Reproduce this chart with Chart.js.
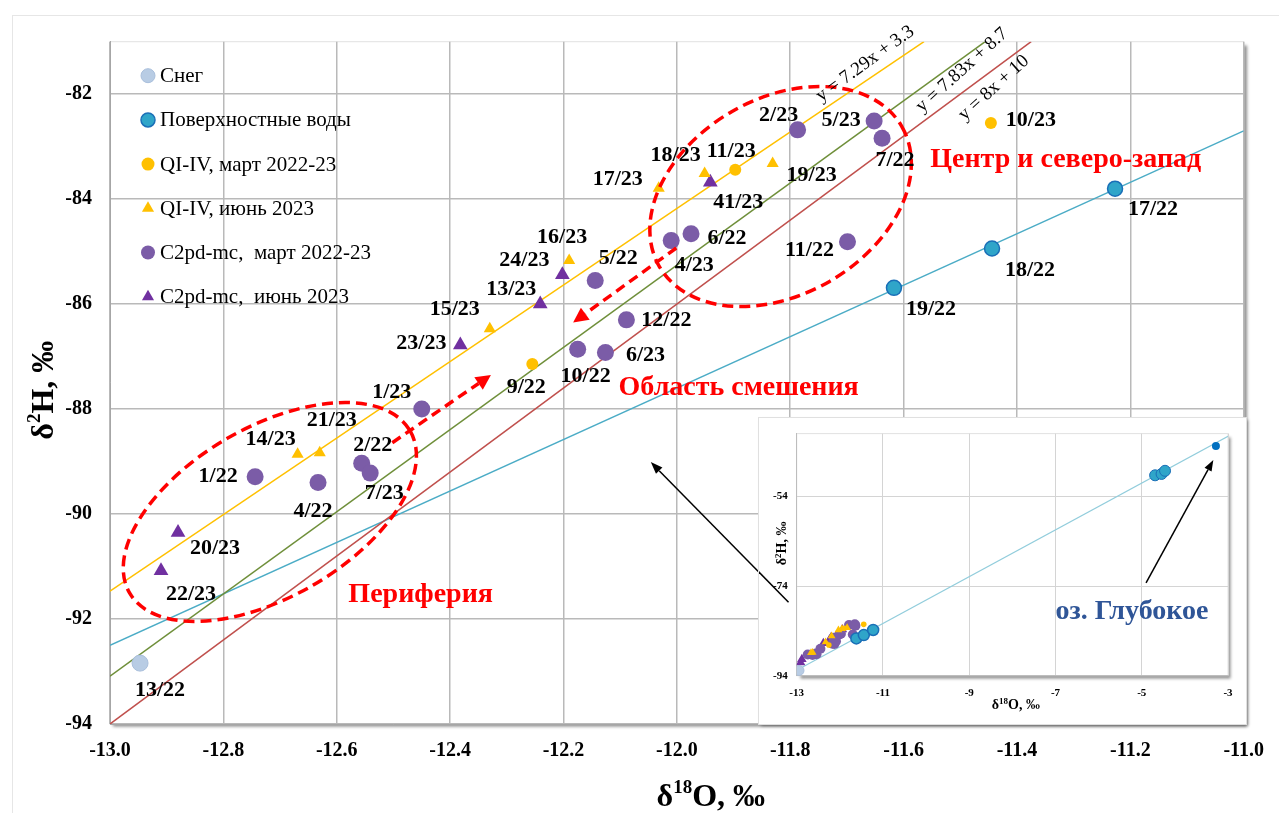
<!DOCTYPE html>
<html>
<head>
<meta charset="utf-8">
<script src="https://cdn.jsdelivr.net/npm/chart.js@4.4.1/dist/chart.umd.min.js"></script>
<style>
	html, body { margin: 0; padding: 0; background: #fff; }
	#wrap { position: relative; width: 1279px; height: 813px; overflow: hidden; }
	#frame { position: absolute; left: 12px; top: 15px; width: 1300px; height: 830px; border-left: 1px solid #e6e6e6; border-top: 1px solid #e6e6e6; }
	#main { position: absolute; left: 0; top: 0; }
	#insetBox { position: absolute; background: #fff; outline: 1px solid #e0e0e0; box-shadow: 2px 2px 3px rgba(0,0,0,0.4); }
	#insetBox canvas { display: block; }
</style>
</head>
<body>
<div id="wrap">
	<div id="frame"></div>
	<canvas id="main" width="1279" height="813"></canvas>
	<div id="insetBox"><canvas id="inset" width="487" height="306"></canvas></div>
</div>
<script>
// ---- data (δ18O, δ2H, sample labels) ----
const snowO = [-12.947];
const snowH = [-92.84];
const snowLab = ['13/22'];

const surfO = [-11.617, -11.444, -11.227];
const surfH = [-85.69, -84.94, -83.80];
const surfLab = ['19/22', '18/22', '17/22'];

const qMarO = [-12.255, -11.897, -11.446];
const qMarH = [-87.14, -83.44, -82.55];
const qMarLab = ['9/22', '11/23', '10/23'];

const qJunO = [-12.669, -12.630, -12.330, -12.190, -12.032, -11.951, -11.831];
const qJunH = [-88.86, -88.83, -86.47, -85.17, -83.79, -83.51, -83.32];
const qJunLab = ['14/23', '21/23', '15/23', '16/23', '17/23', '18/23', '19/23'];

const cMarO = [-12.744, -12.633, -12.556, -12.541, -12.450, -12.144, -12.089, -12.175, -12.126, -12.010, -11.975, -11.787, -11.652, -11.638, -11.699];
const cMarH = [-89.29, -89.40, -89.03, -89.22, -88.00, -85.55, -86.30, -86.86, -86.92, -84.79, -84.66, -82.68, -82.51, -82.84, -84.81];
const cMarLab = ['1/22', '4/22', '2/22', '7/23', '1/23', '5/22', '12/22', '10/22', '6/23', '4/23', '6/22', '2/23', '5/23', '7/22', '11/22'];

const cJunO = [-12.910, -12.880, -12.382, -12.241, -12.202, -11.941];
const cJunH = [-91.08, -90.35, -86.78, -86.00, -85.44, -83.68];
const cJunLab = ['22/23', '20/23', '23/23', '13/23', '24/23', '41/23'];

// lake points, only seen in the inset
const lakeO = [-4.69, -4.54, -4.46];
const lakeH = [-49.3, -49.0, -48.3];
const deepO = [-3.28];
const deepH = [-42.75];

// trend lines (end points)
const lineQO = [-13, -11.564], lineQH = [-91.47, -81.0];   // y = 7.29x + 3.3
const lineCO = [-13, -11.456], lineCH = [-93.09, -81.0];   // y = 7.83x + 8.7
const lineGO = [-13, -11.375], lineGH = [-94.0, -81.0];    // y = 8x + 10
const lineSO = [-13, -11.0], lineSH = [-92.5, -82.7];      // surface waters
const insetLineO = [-13, -3], insetLineH = [-92.8, -40.6];

// axis ranges: [min, max, step]
const xTicksMain = [-13, -11, 0.2];
const yTicksMain = [-94, -81, 2];
const xTicksInset = [-13, -3, 2];
const yTicksInset = [-94, -40, 20];

// ---- layout of labels and drawings ----
const serif = '"Liberation Serif", "Times New Roman", serif';
const INSET = { left: 759, top: 418, w: 487, h: 306 };

const labelShift = {
	'13/22': [20, 27], '22/23': [30, 24], '20/23': [37, 16], '1/22': [-37, 0], '14/23': [-27, -15],
	'21/23': [12, -32], '4/22': [-5, 29], '2/22': [11, -18], '7/23': [14, 20], '1/23': [-30, -17],
	'23/23': [-39, -2], '15/23': [-35, -19], '13/23': [-29, -15], '24/23': [-38, -14], '16/23': [-7, -23],
	'5/22': [23, -22], '17/23': [-41, -9], '18/23': [-29, -18], '11/23': [-4, -18], '41/23': [28, 20],
	'19/23': [39, 12], '2/23': [-19, -15], '5/23': [-33, -1], '7/22': [13, 22], '4/23': [23, 25],
	'6/22': [36, 5], '12/22': [40, 0], '10/22': [8, 27], '6/23': [40, 3], '9/22': [-6, 23],
	'10/23': [40, -3], '11/22': [-38, 9], '17/22': [38, 21], '18/22': [38, 22], '19/22': [37, 21]
};

const ellipses = [
	{ o: -12.718, h: -89.96, rx: 162, ry: 85, rot: -30 },
	{ o: -11.817, h: -83.95, rx: 140, ry: 98, rot: -30 }
];
const redArrows = [
	{ from: [-12.502, -88.64], to: [-12.328, -87.35] },
	{ from: [-12.001, -84.93], to: [-12.183, -86.35] }
];
const blackArrow = { from: [-11.803, -91.68], to: [-12.046, -89.01] };

const eqLabels = [
	{ text: 'y = 7.29x + 3.3', o: -11.668, h: -81.42, rot: -36 },
	{ text: 'y = 7.83x + 8.7', o: -11.497, h: -81.54, rot: -42 },
	{ text: 'y = 8x + 10', o: -11.441, h: -81.88, rot: -42 }
];
const regionTexts = [
	{ text: 'Центр и северо-запад', o: -11.553, h: -83.25, align: 'left' },
	{ text: 'Область смешения', o: -11.891, h: -87.60, align: 'center' },
	{ text: 'Периферия', o: -12.452, h: -91.54, align: 'center' }
];

function pts(xs, ys)
{
	return xs.map((x, i) => ({ x, y: ys[i] }));
}

function marker(ctx, style, x, y, r, fill, stroke, bw)
{
	ctx.save();
	ctx.fillStyle = fill;
	ctx.strokeStyle = stroke;
	ctx.lineWidth = bw;
	ctx.beginPath();
	if (style === 'triangle') {
		ctx.moveTo(x, y - r);
		ctx.lineTo(x + 0.866 * r, y + 0.5 * r);
		ctx.lineTo(x - 0.866 * r, y + 0.5 * r);
		ctx.closePath();
	} else {
		ctx.arc(x, y, r, 0, Math.PI * 2);
	}
	ctx.fill();
	if (bw > 0) ctx.stroke();
	ctx.restore();
}

function arrow(ctx, x0, y0, x1, y1, color, w, dash, hl, hw)
{
	const ang = Math.atan2(y1 - y0, x1 - x0);
	const bx = x1 - hl * Math.cos(ang), by = y1 - hl * Math.sin(ang);
	ctx.save();
	ctx.strokeStyle = color;
	ctx.fillStyle = color;
	ctx.lineWidth = w;
	ctx.setLineDash(dash);
	ctx.beginPath();
	ctx.moveTo(x0, y0);
	ctx.lineTo(bx, by);
	ctx.stroke();
	ctx.setLineDash([]);
	ctx.beginPath();
	ctx.moveTo(x1, y1);
	ctx.lineTo(bx + hw * Math.sin(ang), by - hw * Math.cos(ang));
	ctx.lineTo(bx - hw * Math.sin(ang), by + hw * Math.cos(ang));
	ctx.closePath();
	ctx.fill();
	ctx.restore();
}

// text with a superscript part: parts = [[text, size, raise], ...]
function richText(ctx, parts, x, y, rot)
{
	ctx.save();
	ctx.translate(x, y);
	ctx.rotate(rot || 0);
	ctx.fillStyle = '#000';
	ctx.textBaseline = 'alphabetic';
	ctx.textAlign = 'left';
	let total = 0;
	parts.forEach(p => {
		ctx.font = `bold ${p[1]}px ${serif}`;
		total += ctx.measureText(p[0]).width;
	});
	let cx = -total / 2;
	parts.forEach(p => {
		ctx.font = `bold ${p[1]}px ${serif}`;
		ctx.fillText(p[0], cx, p[2]);
		cx += ctx.measureText(p[0]).width;
	});
	ctx.restore();
}

function plotFrame(chart)
{
	const { ctx, chartArea: a } = chart;
	ctx.save();
	ctx.shadowColor = 'rgba(0,0,0,0.45)';
	ctx.shadowBlur = 3;
	ctx.shadowOffsetX = 3;
	ctx.shadowOffsetY = 3;
	ctx.fillStyle = '#fff';
	ctx.fillRect(a.left, a.top, a.right - a.left, a.bottom - a.top);
	ctx.restore();
	ctx.save();
	ctx.strokeStyle = '#e2e2e2';
	ctx.lineWidth = 1;
	ctx.strokeRect(a.left, a.top, a.right - a.left, a.bottom - a.top);
	ctx.restore();
}

const mainDeco = {
	id: 'mainDeco',
	beforeDraw: plotFrame,
	afterDatasetsDraw (chart)
	{
		const { ctx, chartArea: a } = chart;
		const sx = chart.scales.x, sy = chart.scales.y;
		const px = v => sx.getPixelForValue(v), py = v => sy.getPixelForValue(v);

		// dashed ellipses
		ctx.save();
		ctx.strokeStyle = '#ff0000';
		ctx.lineWidth = 3.5;
		ctx.setLineDash([11, 6]);
		ellipses.forEach(e => {
			ctx.beginPath();
			ctx.ellipse(px(e.o), py(e.h), e.rx, e.ry, e.rot * Math.PI / 180, 0, Math.PI * 2);
			ctx.stroke();
		});
		ctx.restore();

		redArrows.forEach(r => arrow(ctx, px(r.from[0]), py(r.from[1]), px(r.to[0]), py(r.to[1]), '#ff0000', 3.5, [10, 6], 15, 7.5));
		arrow(ctx, px(blackArrow.from[0]), py(blackArrow.from[1]), px(blackArrow.to[0]), py(blackArrow.to[1]), '#000', 1.5, [], 12, 4.5);

		// sample labels
		ctx.save();
		ctx.font = `bold 22px ${serif}`;
		ctx.fillStyle = '#000';
		ctx.textAlign = 'center';
		ctx.textBaseline = 'middle';
		chart.data.datasets.forEach((ds, i) => {
			if (!ds.pointLabels) return;
			chart.getDatasetMeta(i).data.forEach((el, j) => {
				const t = ds.pointLabels[j];
				const off = labelShift[t] || [0, -20];
				ctx.fillText(t, el.x + off[0], el.y + off[1]);
			});
		});
		ctx.restore();

		// trend equations
		ctx.save();
		ctx.font = `19px ${serif}`;
		ctx.fillStyle = '#000';
		ctx.textAlign = 'center';
		ctx.textBaseline = 'middle';
		eqLabels.forEach(e => {
			ctx.save();
			ctx.translate(px(e.o), py(e.h));
			ctx.rotate(e.rot * Math.PI / 180);
			ctx.fillText(e.text, 0, 0);
			ctx.restore();
		});
		ctx.restore();

		// region names
		ctx.save();
		ctx.font = `bold 28px ${serif}`;
		ctx.fillStyle = '#ff0000';
		ctx.textBaseline = 'middle';
		regionTexts.forEach(r => {
			ctx.textAlign = r.align;
			ctx.fillText(r.text, px(r.o), py(r.h));
		});
		ctx.restore();

		// legend
		ctx.save();
		ctx.font = `21px ${serif}`;
		ctx.textAlign = 'left';
		ctx.textBaseline = 'middle';
		chart.data.datasets.forEach((ds, i) => {
			if (!ds.pointLabels) return;
			const cx = a.left + 38, cy = a.top + 34 + i * 44.2;
			marker(ctx, ds.pointStyle, cx, cy, ds.legendRadius, ds.backgroundColor, ds.borderColor, ds.borderWidth);
			ctx.fillStyle = '#000';
			ctx.fillText(ds.label, cx + 12, cy + 1);
		});
		ctx.restore();

		// axis titles
		richText(ctx, [['δ', 32, 0], ['18', 19, -13], ['O, ‰', 32, 0]], px(-11.94), a.bottom + 82, 0);
		richText(ctx, [['δ', 32, 0], ['2', 19, -13], ['H, ‰', 32, 0]], a.left - 57, py(-87.64), -Math.PI / 2);
	}
};

function pointSets(sizes)
{
	return [
		{ label: 'Снег', data: pts(snowO, snowH), pointLabels: snowLab, pointStyle: 'circle', pointRadius: sizes[0], legendRadius: 7, backgroundColor: '#b8cce4', borderColor: '#a9bfdc', borderWidth: 1 },
		{ label: 'Поверхностные воды', data: pts(surfO, surfH), pointLabels: surfLab, pointStyle: 'circle', pointRadius: sizes[1], legendRadius: 7, backgroundColor: '#2fa5c9', borderColor: '#1a6fb7', borderWidth: 1.5 },
		{ label: 'QI-IV, март 2022-23', data: pts(qMarO, qMarH), pointLabels: qMarLab, pointStyle: 'circle', pointRadius: sizes[2], legendRadius: 6.5, backgroundColor: '#ffc000', borderColor: '#ffc000', borderWidth: 0 },
		{ label: 'QI-IV, июнь 2023', data: pts(qJunO, qJunH), pointLabels: qJunLab, pointStyle: 'triangle', pointRadius: sizes[3], legendRadius: 7, backgroundColor: '#ffc000', borderColor: '#ffc000', borderWidth: 0 },
		{ label: 'C2pd-mc,  март 2022-23', data: pts(cMarO, cMarH), pointLabels: cMarLab, pointStyle: 'circle', pointRadius: sizes[4], legendRadius: 7, backgroundColor: '#7b5ca7', borderColor: '#7b5ca7', borderWidth: 0 },
		{ label: 'C2pd-mc,  июнь 2023', data: pts(cJunO, cJunH), pointLabels: cJunLab, pointStyle: 'triangle', pointRadius: sizes[5], legendRadius: 7, backgroundColor: '#7030a0', borderColor: '#7030a0', borderWidth: 0 }
	];
}

function lineSet(xs, ys, color)
{
	return { data: pts(xs, ys), showLine: true, pointRadius: 0, borderColor: color, borderWidth: 1.5, order: 10 };
}

function axis(range, fontSize, pad, extra)
{
	return Object.assign({
		type: 'linear',
		min: range[0],
		max: range[1],
		ticks: { stepSize: range[2], color: '#000', padding: pad, font: { family: serif, size: fontSize, weight: 'bold' } },
		afterBuildTicks: s => {
			// ticks start at the axis minimum and step up, the top bound gets no tick
			const out = [];
			const n = Math.floor((range[1] - range[0]) / range[2] + 1e-6);
			for (let k = 0; k <= n; k++) out.push({ value: Math.round((range[0] + k * range[2]) * 1e6) / 1e6 });
			s.ticks = out;
		},
		border: { color: '#a6a6a6', width: 1 }
	}, extra);
}

const mainChart = new Chart(document.getElementById('main'), {
	type: 'scatter',
	data: {
		datasets: pointSets([8, 7.5, 6, 7, 8.5, 8.5]).concat([
			lineSet(lineQO, lineQH, '#ffc000'),
			lineSet(lineCO, lineCH, '#6f8f3a'),
			lineSet(lineGO, lineGH, '#c0504d'),
			lineSet(lineSO, lineSH, '#4bacc6')
		])
	},
	options: {
		responsive: false,
		animation: false,
		events: [],
		layout: { padding: { top: 41.7, right: 32.5, left: 0, bottom: 0 } },
		plugins: { legend: { display: false }, tooltip: { enabled: false } },
		scales: {
			x: axis(xTicksMain, 20, 15, {
				grid: { color: '#b9b9b9', lineWidth: 1.5, drawTicks: false },
				afterFit: s => { s.height = 89; }
			}),
			y: axis(yTicksMain, 20, 18, {
				grid: { color: '#b9b9b9', lineWidth: 1.5, drawTicks: false },
				afterFit: s => { s.width = 110; }
			})
		}
	},
	plugins: [mainDeco]
});
mainChart.options.scales.x.ticks.callback = v => Number(v).toFixed(1);
mainChart.update();

const insetDeco = {
	id: 'insetDeco',
	beforeDraw: plotFrame,
	afterDatasetsDraw (chart)
	{
		const { ctx, chartArea: a } = chart;
		const sx = chart.scales.x, sy = chart.scales.y;
		const px = v => sx.getPixelForValue(v), py = v => sy.getPixelForValue(v);

		// part of the big black arrow that lies over the inset
		const mx = mainChart.scales.x, my = mainChart.scales.y;
		const tx = mx.getPixelForValue(blackArrow.from[0]) - INSET.left, ty = my.getPixelForValue(blackArrow.from[1]) - INSET.top;
		const hx = mx.getPixelForValue(blackArrow.to[0]) - INSET.left, hy = my.getPixelForValue(blackArrow.to[1]) - INSET.top;
		ctx.save();
		ctx.strokeStyle = '#000';
		ctx.lineWidth = 1.5;
		ctx.beginPath();
		ctx.moveTo(hx, hy);
		ctx.lineTo(tx, ty);
		ctx.stroke();
		ctx.restore();

		arrow(ctx, px(-4.90), py(-73.28), px(-3.34), py(-45.9), '#000', 1.5, [], 11, 4);

		ctx.save();
		ctx.font = `bold 28px ${serif}`;
		ctx.fillStyle = '#2f5597';
		ctx.textAlign = 'center';
		ctx.textBaseline = 'middle';
		ctx.fillText('оз. Глубокое', px(-5.226), py(-79.67));
		ctx.restore();

		richText(ctx, [['δ', 14, 0], ['18', 9, -5], ['O, ‰', 14, 0]], px(-7.92), a.bottom + 33, 0);
		richText(ctx, [['δ', 14, 0], ['2', 9, -5], ['H, ‰', 14, 0]], a.left - 11, py(-64.5), -Math.PI / 2);
	}
};

const box = document.getElementById('insetBox');
box.style.left = INSET.left + 'px';
box.style.top = INSET.top + 'px';
box.style.width = INSET.w + 'px';
box.style.height = INSET.h + 'px';

const insetSets = pointSets([5, 5.5, 2.8, 4.5, 5, 5.5]).map(d => Object.assign(d, { pointLabels: null }));
insetSets.push({ data: pts(lakeO, lakeH), pointRadius: 5.5, backgroundColor: '#2fa5c9', borderColor: '#1a6fb7', borderWidth: 1 });
insetSets.push({ data: pts(deepO, deepH), pointRadius: 4, backgroundColor: '#0070c0', borderColor: '#0070c0', borderWidth: 0 });
insetSets.push({ data: pts(insetLineO, insetLineH), showLine: true, pointRadius: 0, borderColor: '#92cddc', borderWidth: 1.2, order: 10 });

const insetChart = new Chart(document.getElementById('inset'), {
	type: 'scatter',
	data: { datasets: insetSets },
	options: {
		responsive: false,
		animation: false,
		events: [],
		layout: { padding: { top: 11, right: 18, left: 0, bottom: 0 } },
		plugins: { legend: { display: false }, tooltip: { enabled: false } },
		scales: {
			x: axis(xTicksInset, 11, 10.5, {
				grid: { color: '#d4d4d4', lineWidth: 1, drawTicks: false },
				border: { color: '#bdbdbd', width: 1 },
				afterFit: s => { s.height = 48.3; }
			}),
			y: axis(yTicksInset, 11, 9, {
				grid: { color: '#d4d4d4', lineWidth: 1, drawTicks: false },
				border: { color: '#bdbdbd', width: 1 },
				afterFit: s => { s.width = 37.7; }
			})
		}
	},
	plugins: [insetDeco]
});
</script>
</body>
</html>
